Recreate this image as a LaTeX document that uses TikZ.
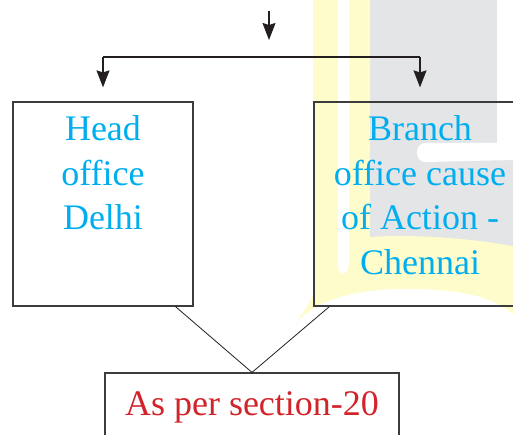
\documentclass[tikz,border=0pt]{standalone}
\usepackage{fontspec}
\setmainfont{Liberation Serif}
\usetikzlibrary{arrows.meta,positioning,calc}
\definecolor{cian}{RGB}{0,174,239}
\definecolor{rojo}{RGB}{210,35,42}
\definecolor{borde}{RGB}{60,60,60}
\definecolor{tinta}{RGB}{35,31,32}
\definecolor{marcaAmarilla}{RGB}{255,252,204}
\definecolor{marcaGris}{RGB}{228,229,231}

\begin{document}
\begin{tikzpicture}[x=1pt,y=-1pt,>={Stealth[length=17pt,width=13pt,inset=2pt]},
    caja/.style={draw=borde,line width=1.2pt,inner sep=0pt},
    texto/.style={font=\fontsize{36}{44.5}\selectfont,align=center,inner sep=0pt},
    flecha/.style={->,draw=tinta,line width=1.2pt},
    union/.style={draw=tinta,line width=0.8pt}]
  \useasboundingbox (0,0) rectangle (513,435);
  \clip (0,0) rectangle (513,435);

  % marca de agua de fondo
  \fill[marcaAmarilla] (313,0) -- (513,0) -- (520,322)
    .. controls (500,296) and (460,290) .. (415,289)
    .. controls (380,288) and (320,292) .. (296,324) -- (313,296) -- cycle;
  \fill[white] (338,0) -- (349,0) -- (349,262)
    .. controls (349,270) and (345,274) .. (343,274)
    .. controls (340,274) and (338,270) .. (338,262) -- cycle;
  \fill[marcaGris] (370,0) -- (513,0) -- (513,246)
    .. controls (470,238) and (410,234) .. (370,237) -- cycle;
  \fill[white] (497,0) -- (513,0) -- (513,160) -- (426,162)
    .. controls (419,162) and (417,157) .. (417,152)
    .. controls (417,147) and (420,143) .. (426,143) -- (497,143) -- cycle;

  % cajas
  \node[caja,minimum width=180pt,minimum height=204pt] (head) at (103,204) {};
  \node[caja,minimum width=212pt,minimum height=204pt] (branch) at (420,204) {};
  \node[texto,text=cian,below=14.4pt of head.north] (headtxt) {Head\\office\\Delhi};
  \node[texto,text=cian,below=14.4pt of branch.north] (branchtxt) {Branch\\office cause\\of Action -\\Chennai};
  \node[caja,texto,text=rojo,minimum width=294pt,minimum height=68pt] (sec) at (252,407) {As per section-20};

  % flechas
  \coordinate (top) at (269,11);
  \coordinate (topend) at (269,40);
  \coordinate (split) at (262,57);
  \draw[flecha] (top) -- (topend);
  \draw[tinta,line width=1.2pt] (head.north |- split) -- (branch.north |- split);
  \draw[flecha,shorten >=14pt] (head.north |- split) -- (head.north);
  \draw[flecha,shorten >=14pt] (branch.north |- split) -- (branch.north);
  \draw[union] ($(head.south east)!0.2!(head.south)$) -- (sec.north);
  \draw[union] ($(branch.south west)!0.15!(branch.south)$) -- (sec.north);
\end{tikzpicture}
\end{document}
